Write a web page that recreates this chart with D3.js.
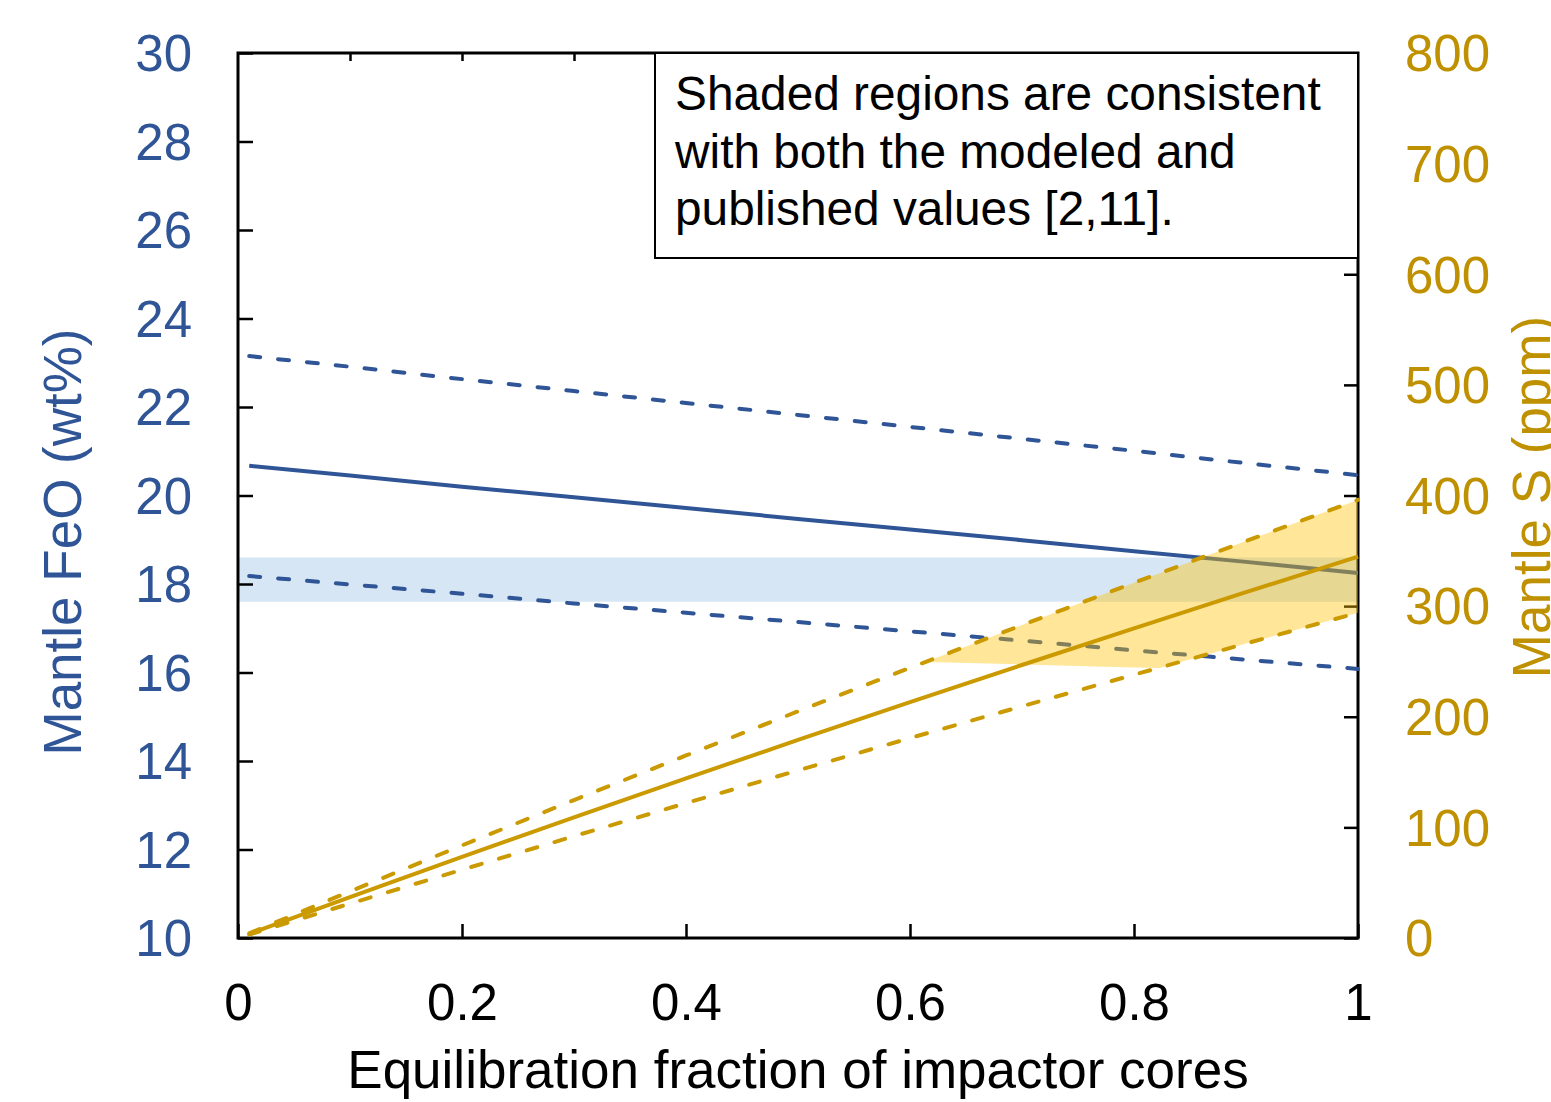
<!DOCTYPE html>
<html>
<head>
<meta charset="utf-8">
<script src="https://cdn.jsdelivr.net/npm/d3@7"></script>
<style>
  html, body { margin: 0; padding: 0; background: #ffffff; }
  svg { display: block; font-family: "Liberation Sans", Arial, sans-serif; }
</style>
</head>
<body>
<svg id="chart" width="1551" height="1102"></svg>
<script>
// Equilibration fraction of impactor cores (x)
const fraction = [0.01, 0.1, 0.2, 0.3, 0.4, 0.5, 0.6, 0.7, 0.8, 0.9, 1.0];

// Mantle FeO (wt%), left axis
const feoModel = [20.67, 20.45, 20.20, 19.96, 19.72, 19.47, 19.23, 18.99, 18.74, 18.50, 18.25];
const feoHigh  = [23.15, 22.91, 22.63, 22.36, 22.09, 21.82, 21.55, 21.28, 21.01, 20.73, 20.46];
const feoLow   = [18.18, 17.99, 17.78, 17.56, 17.35, 17.14, 16.93, 16.72, 16.50, 16.29, 16.08];

// Mantle S (ppm), right axis
const sModel = [3.7, 36.9, 73.3, 109.1, 144.3, 179.0, 213.2, 246.8, 279.9, 312.6, 344.7];
const sHigh  = [4.2, 42.1, 83.7, 124.7, 165.0, 204.9, 244.2, 282.9, 321.1, 358.8, 396.0];
const sLow   = [3.1, 31.1, 61.7, 92.0, 121.9, 151.5, 180.7, 209.5, 238.0, 266.2, 294.0];

// Published FeO range (shaded across all fractions)
const feoBandFraction = [0, 1];
const feoBandLow  = [17.6, 17.6];
const feoBandHigh = [18.6, 18.6];

// Region consistent with both modeled and published S
const sBandFraction = [0.615, 0.7, 0.8, 0.823, 0.9, 1.0];
const sBandLow  = [249.5, 247.3, 244.6, 244.0, 266.2, 294.0];
const sBandHigh = [250.0, 282.9, 321.1, 329.8, 358.8, 396.0];

// Tick labels
const xTicks = [0, 0.2, 0.4, 0.6, 0.8, 1];
const xTopTicks = [0.1, 0.2, 0.3, 0.4, 0.5, 0.6, 0.7, 0.8, 0.9];
const feoTicks = [10, 12, 14, 16, 18, 20, 22, 24, 26, 28, 30];
const sTicks = [0, 100, 200, 300, 400, 500, 600, 700, 800];

const noteLines = [
  "Shaded regions are consistent",
  "with both the modeled and",
  "published values [2,11]."
];

const BLUE = "#2F5597";
const GOLD_TEXT = "#BF9000";
const GOLD_LINE = "#CA9A00";

const L = 238, R = 1358, T = 53, B = 938;
const x = d3.scaleLinear().domain([0, 1]).range([L, R]);
const yL = d3.scaleLinear().domain([10, 30]).range([B, T]);
const yR = d3.scaleLinear().domain([0, 800]).range([B, T]);

const svg = d3.select("#chart");

// Published FeO band
const feoBand = feoBandFraction.map((f, i) => ({f, lo: feoBandLow[i], hi: feoBandHigh[i]}));
svg.append("path")
  .datum(feoBand)
  .attr("fill", "#5B9BD5")
  .attr("fill-opacity", 0.25)
  .attr("d", d3.area().x(d => x(d.f)).y0(d => yL(d.lo)).y1(d => yL(d.hi)));

// Axes
function styleAxis(g) {
  g.select(".domain").remove();
  g.selectAll(".tick line").attr("stroke", "#000").attr("stroke-width", 2.5);
}

svg.append("g")
  .attr("transform", `translate(${L},0)`)
  .call(d3.axisLeft(yL).tickValues(feoTicks).tickSize(-15).tickPadding(46).tickFormat(d3.format("d")))
  .call(styleAxis)
  .call(g => g.selectAll("text").attr("fill", BLUE).attr("font-size", 51)
    .attr("font-family", "Liberation Sans, Arial, sans-serif").attr("dy", "0.35em"));

svg.append("g")
  .attr("transform", `translate(${R},0)`)
  .call(d3.axisRight(yR).tickValues(sTicks).tickSize(-14).tickPadding(47).tickFormat(d3.format("d")))
  .call(styleAxis)
  .call(g => g.selectAll("text").attr("fill", GOLD_TEXT).attr("font-size", 51)
    .attr("font-family", "Liberation Sans, Arial, sans-serif").attr("dy", "0.35em"));

svg.append("g")
  .attr("transform", `translate(0,${B})`)
  .call(d3.axisBottom(x).tickValues(xTicks).tickSize(-14).tickPadding(46).tickFormat(d => String(d)))
  .call(styleAxis)
  .call(g => g.selectAll("text").attr("fill", "#000").attr("font-size", 51)
    .attr("font-family", "Liberation Sans, Arial, sans-serif"));

svg.append("g")
  .attr("transform", `translate(0,${T})`)
  .call(d3.axisTop(x).tickValues(xTopTicks).tickSize(-8).tickFormat(""))
  .call(styleAxis);

// Plot frame
svg.append("rect")
  .attr("x", L).attr("y", T).attr("width", R - L).attr("height", B - T)
  .attr("fill", "none").attr("stroke", "#000").attr("stroke-width", 3);

// FeO curves
const feoLine = d3.line().x((d, i) => x(fraction[i])).y(d => yL(d));
const blueSeries = [
  {values: feoHigh, dashed: true},
  {values: feoModel, dashed: false},
  {values: feoLow, dashed: true}
];
svg.append("g").selectAll("path")
  .data(blueSeries)
  .join("path")
  .attr("fill", "none")
  .attr("stroke", BLUE)
  .attr("stroke-width", 4)
  .attr("stroke-linecap", d => d.dashed ? "round" : "butt")
  .attr("stroke-dasharray", d => d.dashed ? "11,18" : null)
  .attr("d", d => feoLine(d.values));

// Consistent S region
const sBand = sBandFraction.map((f, i) => ({f, lo: sBandLow[i], hi: sBandHigh[i]}));
svg.append("path")
  .datum(sBand)
  .attr("fill", "#FFC000")
  .attr("fill-opacity", 0.4)
  .attr("d", d3.area().x(d => x(d.f)).y0(d => yR(d.lo)).y1(d => yR(d.hi)));

// S curves
const sLine = d3.line().x((d, i) => x(fraction[i])).y(d => yR(d));
const goldSeries = [
  {values: sHigh, dashed: true},
  {values: sModel, dashed: false},
  {values: sLow, dashed: true}
];
svg.append("g").selectAll("path")
  .data(goldSeries)
  .join("path")
  .attr("fill", "none")
  .attr("stroke", GOLD_LINE)
  .attr("stroke-width", 4)
  .attr("stroke-linecap", d => d.dashed ? "round" : "butt")
  .attr("stroke-dasharray", d => d.dashed ? "11,18" : null)
  .attr("d", d => sLine(d.values));

// Note box
const note = svg.append("g");
note.append("rect")
  .attr("x", 655).attr("y", T).attr("width", R - 655).attr("height", 258 - T)
  .attr("fill", "#fff").attr("stroke", "#000").attr("stroke-width", 2);
note.selectAll("text")
  .data(noteLines)
  .join("text")
  .attr("x", 675)
  .attr("y", (d, i) => 110 + i * 57.5)
  .attr("font-size", 47.8)
  .attr("fill", "#000")
  .text(d => d);

// Axis titles
svg.append("text")
  .attr("transform", "translate(81,542) rotate(-90)")
  .attr("text-anchor", "middle")
  .attr("font-size", 53)
  .attr("fill", BLUE)
  .text("Mantle FeO (wt%)");

svg.append("text")
  .attr("transform", "translate(1550,497) rotate(-90)")
  .attr("text-anchor", "middle")
  .attr("font-size", 53)
  .attr("fill", GOLD_TEXT)
  .text("Mantle S (ppm)");

svg.append("text")
  .attr("x", 798).attr("y", 1088)
  .attr("text-anchor", "middle")
  .attr("font-size", 53)
  .attr("fill", "#000")
  .text("Equilibration fraction of impactor cores");
</script>
</body>
</html>
